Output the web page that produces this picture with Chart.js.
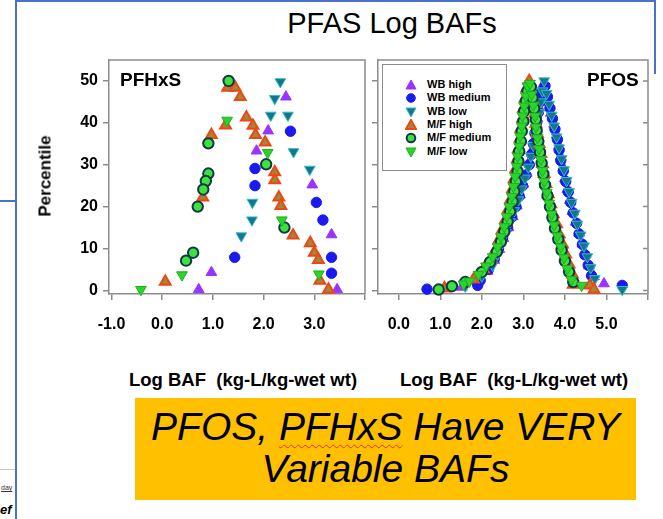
<!DOCTYPE html>
<html><head><meta charset="utf-8">
<script src="https://cdn.jsdelivr.net/npm/chart.js@4"></script>
<style>
html,body{margin:0;padding:0;}
body{width:663px;height:519px;position:relative;overflow:hidden;background:#fff;font-family:"Liberation Sans",Arial,sans-serif;}
.abs{position:absolute;}
canvas{position:absolute;}
.lbl{position:absolute;font-weight:bold;color:#000;white-space:nowrap;}
</style></head><body>

<!-- slide frame fragments -->
<div class="abs" style="left:15px;top:0;width:2px;height:519px;background:#4a72c8"></div>
<div class="abs" style="left:15px;top:0;width:641px;height:2px;background:#4a72c8"></div>
<div class="abs" style="left:654px;top:0;width:2px;height:74px;background:#4a72c8"></div>
<div class="abs" style="left:0;top:200px;width:15px;height:2px;background:#4a72c8"></div>
<div class="abs" style="left:0;top:469px;width:15px;height:1px;background:#c8c8c8"></div>
<div class="abs" style="left:1px;top:484px;font-size:7px;color:#333;text-decoration:underline">day</div>
<div class="abs" style="left:0;top:502px;font-size:13px;font-weight:bold;font-style:italic;color:#000">ef</div>

<div class="abs" style="left:392px;top:9px;transform:translateX(-50%);white-space:nowrap;font-size:29px;line-height:29px;color:#000">PFAS Log BAFs</div>

<canvas id="cL" width="380" height="340" style="left:0;top:0"></canvas>
<canvas id="cR" width="323" height="340" style="left:340px;top:0"></canvas>

<div class="lbl" style="left:120px;top:70px;font-size:19px;line-height:19px">PFHxS</div>
<div class="lbl" style="left:587px;top:70px;font-size:19px;line-height:19px">PFOS</div>
<div class="lbl" style="left:45px;top:176px;font-size:17px;line-height:17px;transform:translate(-50%,-50%) rotate(-90deg)">Percentile</div>
<div class="lbl" style="left:243px;top:370px;font-size:18.5px;line-height:19px;transform:translateX(-50%)">Log BAF&nbsp; (kg-L/kg-wet wt)</div>
<div class="lbl" style="left:514px;top:370px;font-size:18.5px;line-height:19px;transform:translateX(-50%)">Log BAF&nbsp; (kg-L/kg-wet wt)</div>

<div id="legend" class="abs" style="left:382px;top:64px;width:123px;height:105px;border:1.5px solid #8c8c8c;background:#fff"></div>

<div class="abs" style="left:135px;top:398px;width:501px;height:102px;background:#FFC000;text-align:center;font-style:italic;font-size:39px;line-height:42px;color:#000;padding-top:8px;box-sizing:border-box;white-space:nowrap">PFOS, <span style="text-decoration:underline wavy #e03030;text-decoration-thickness:1px;text-underline-offset:4px">PFHxS</span> Have VERY<br>Variable BAFs</div>

<script>
// ---------------- DATA ----------------
const seriesNames = ['WB high', 'WB medium', 'WB low', 'M/F high', 'M/F medium', 'M/F low'];

// PFHxS panel: [log BAF, percentile]
const pfhxsWbHigh = [[2.44,46.2],[2.09,38.1],[1.86,33.3],[2.96,25.2],[3.34,13.3],[0.97,4.3],[0.72,0.2],[3.45,0.2]];
const pfhxsWbMed  = [[2.53,38.0],[1.83,29.1],[1.83,25.0],[3.04,21.0],[3.17,16.8],[1.43,7.9],[3.34,7.9],[3.34,4.1]];
const pfhxsWbLow  = [[2.33,49.8],[2.22,45.8],[2.14,41.8],[2.48,41.8],[2.59,33.1],[2.91,28.9],[1.78,21.0],[1.77,16.8],[1.56,13.0]];
const pfhxsMfHigh = [[1.29,48.4],[1.44,48.4],[1.54,46.2],[1.66,41.3],[1.25,39.4],[0.97,37.1],[1.79,39.3],[1.84,37.1],[2.03,35.3],[2.22,28.2],[2.22,26.3],[2.30,22.2],[2.34,20.2],[0.80,22.2],[2.58,13.1],[2.92,11.3],[3.00,9.0],[3.08,7.3],[3.11,2.3],[3.28,0.2],[0.06,2.1]];
const pfhxsMfMed  = [[1.31,50.0],[0.91,35.1],[0.91,27.9],[0.86,26.1],[0.81,24.1],[0.70,20.0],[0.61,9.0],[0.47,7.1],[2.05,30.1],[2.41,15.0]];
const pfhxsMfLow  = [[1.28,40.6],[2.08,32.9],[2.36,16.8],[3.09,3.9],[0.39,3.7],[-0.42,0.2]];

// PFOS panel
const pfosWbHigh = [[1.52,0.8],[1.88,2.2],[2.14,4.6],[2.30,7.2],[2.42,9.8],[2.52,12.4],[2.64,15.0],[2.74,17.6],[2.84,20.2],[2.92,22.8],[3.00,25.4],[3.08,28.0],[3.14,30.6],[3.20,33.2],[3.26,35.8],[3.30,38.4],[3.34,41.0],[3.38,43.6],[3.42,46.2],[3.46,48.8],
  [3.54,47.5],[3.60,44.9],[3.66,42.3],[3.74,39.7],[3.80,37.1],[3.86,34.5],[3.90,31.9],[3.96,29.3],[4.00,26.7],[4.06,24.1],[4.12,21.5],[4.18,18.9],[4.26,16.3],[4.34,13.7],[4.42,11.1],[4.50,8.5],[4.58,5.9],[4.70,3.3],[4.94,1.6]];
const pfosWbMed = [[0.68,0.3],[1.90,1.2],[1.96,2.4],[2.16,5.0],[2.30,7.5],[2.40,10.0],[2.50,12.5],[2.62,15.0],[2.72,17.5],[2.82,20.0],[2.90,22.5],[2.98,25.0],[3.06,27.5],[3.14,30.0],[3.20,32.5],[3.24,35.0],[3.28,37.5],[3.32,40.0],[3.36,42.5],[3.40,45.0],[3.44,47.5],
  [3.52,48.8],[3.58,46.2],[3.64,43.5],[3.70,41.0],[3.76,38.5],[3.82,36.0],[3.86,33.5],[3.90,31.0],[3.96,28.5],[4.02,26.0],[4.08,23.5],[4.14,21.0],[4.20,18.5],[4.28,16.0],[4.34,13.5],[4.42,11.0],[4.48,8.5],[4.56,6.0],[4.64,3.5],[5.38,1.2]];
const pfosWbLow = [[1.60,1.0],[2.00,3.4],[2.26,6.0],[2.38,8.6],[2.48,11.2],[2.58,13.8],[2.68,16.4],[2.78,19.0],[2.88,21.6],[2.96,24.2],[3.04,26.8],[3.12,29.4],[3.18,32.0],[3.24,34.6],[3.28,37.2],[3.32,39.8],[3.38,42.4],[3.42,45.0],[3.46,47.6],[3.50,50.0],
  [3.56,47.0],[3.62,44.4],[3.68,41.8],[3.74,39.2],[3.80,36.6],[3.86,34.0],[3.92,31.4],[3.98,28.8],[4.04,26.2],[4.10,23.6],[4.16,21.0],[4.24,18.4],[4.30,15.8],[4.38,13.2],[4.46,10.6],[4.54,8.0],[4.62,5.4],[4.72,2.8],[5.38,0.2]];
const pfosMfHigh = [[1.10,0.5],[1.80,2.6],[2.04,5.0],[2.22,7.4],[2.34,9.8],[2.42,12.2],[2.50,14.6],[2.58,17.0],[2.64,19.4],[2.70,21.8],[2.74,24.2],[2.78,26.6],[2.82,29.0],[2.86,31.4],[2.88,33.8],[2.92,36.2],[2.94,38.6],[2.98,41.0],[3.00,43.4],[3.04,45.8],[3.08,48.2],[3.14,50.0],
  [3.20,47.0],[3.24,44.6],[3.28,42.2],[3.30,39.8],[3.34,37.4],[3.38,35.0],[3.42,32.6],[3.46,30.2],[3.50,27.8],[3.54,25.4],[3.60,23.0],[3.66,20.6],[3.72,18.2],[3.80,15.8],[3.86,13.4],[3.94,11.0],[4.02,8.6],[4.10,6.2],[4.18,3.8],[4.20,1.4],[4.60,1.2],[4.70,0.2]];
const pfosMfMed = [[0.96,0.2],[1.28,1.0],[1.60,2.0],[2.00,4.4],[2.20,6.8],[2.36,9.2],[2.46,11.6],[2.54,14.0],[2.62,16.4],[2.68,18.8],[2.74,21.2],[2.78,23.6],[2.82,26.0],[2.86,28.4],[2.88,30.8],[2.90,33.2],[2.94,35.6],[2.96,38.0],[3.00,40.4],[3.02,42.8],[3.06,45.2],[3.10,47.6],
  [3.18,48.6],[3.22,46.0],[3.26,43.4],[3.30,40.8],[3.32,38.2],[3.36,35.6],[3.40,33.0],[3.44,30.4],[3.48,27.8],[3.52,25.2],[3.58,22.6],[3.64,20.0],[3.70,17.4],[3.76,14.8],[3.84,12.2],[3.92,9.6],[4.00,7.0],[4.10,4.4],[4.20,2.0]];
const pfosMfLow = [[1.56,1.5],[1.70,2.2],[1.92,3.8],[2.10,5.8],[2.26,8.0],[2.38,10.4],[2.46,12.8],[2.54,15.2],[2.60,17.6],[2.66,20.0],[2.72,22.4],[2.76,24.8],[2.80,27.2],[2.84,29.6],[2.86,32.0],[2.90,34.4],[2.92,36.8],[2.96,39.2],[2.98,41.6],[3.02,44.0],[3.06,46.4],[3.10,48.8],
  [3.16,49.4],[3.20,46.8],[3.24,44.2],[3.28,41.6],[3.30,39.0],[3.34,36.4],[3.38,33.8],[3.42,31.2],[3.46,28.6],[3.50,26.0],[3.56,23.4],[3.62,20.8],[3.68,18.2],[3.74,15.6],[3.82,13.0],[3.90,10.4],[3.98,7.8],[4.06,5.2],[4.16,2.6],[4.40,1.2]];

// ---------------- STYLES ----------------
const markerStyles = [
  {pointStyle:'triangle', rotation:0,   fill:'#9933ff', edge:'#9933ff', r:6.2, bw:1},
  {pointStyle:'circle',   rotation:0,   fill:'#1a1af0', edge:'#1a1af0', r:5.2, bw:1},
  {pointStyle:'triangle', rotation:180, fill:'#15758e', edge:'#2fc0c0', r:6.2, bw:1},
  {pointStyle:'triangle', rotation:0,   fill:'#9c8a36', edge:'#ef4616', r:6.2, bw:2},
  {pointStyle:'circle',   rotation:0,   fill:'#3de23d', edge:'#10384a', r:5.2, bw:2},
  {pointStyle:'triangle', rotation:180, fill:'#2ad42a', edge:'#1fb01f', r:6.2, bw:1}
];
const drawOrder = [5,4,3,2,1,0];

function makeDatasets(seriesList){
  return seriesList.map((pts, i) => {
    const s = markerStyles[i];
    return {
      label: seriesNames[i],
      data: pts.map(p => ({x:p[0], y:p[1]})),
      pointStyle: s.pointStyle, rotation: s.rotation,
      backgroundColor: s.fill, borderColor: s.edge, borderWidth: s.bw,
      pointRadius: s.r, showLine:false, clip:false, order: drawOrder[i]
    };
  });
}

const AX = '#8c8c8c';
const tickFont = {family:'"Liberation Sans", Arial, sans-serif', size:16, weight:'bold'};

const framePlugin = {
  id:'frame',
  beforeDatasetsDraw(chart, args, opts){
    const {ctx, chartArea:a, scales} = chart;
    ctx.save();
    ctx.strokeStyle = AX; ctx.lineWidth = 1.5;
    ctx.beginPath();
    ctx.moveTo(a.left, a.top); ctx.lineTo(a.right, a.top); ctx.lineTo(a.right, a.bottom);
    if (opts.rightTicks) {
      scales.y.ticks.forEach(t => {
        const y = scales.y.getPixelForValue(t.value);
        ctx.moveTo(a.right - 5, y); ctx.lineTo(a.right, y);
      });
    }
    ctx.stroke();
    ctx.restore();
  }
};

function makeChart(id, seriesList, xMin, xMax, hiddenX, yWidth, showYLabels, padRight, rightTicks){
  new Chart(document.getElementById(id), {
    type:'scatter',
    data:{datasets: makeDatasets(seriesList)},
    plugins:[framePlugin],
    options:{
      responsive:false, maintainAspectRatio:false, animation:false, events:[],
      layout:{padding:{top:60, right:padRight, left:0, bottom:0}},
      plugins:{legend:{display:false}, tooltip:{enabled:false}, frame:{rightTicks}},
      scales:{
        x:{type:'linear', min:xMin, max:xMax,
           afterFit(s){ s.height = 46; },
           border:{color:AX, width:1.5},
           grid:{drawOnChartArea:false, tickLength:6, color:AX, lineWidth:1.5},
           ticks:{stepSize:1, includeBounds:false, padding:15, color:'#000', font:tickFont, maxRotation:0,
                  callback:(v)=> hiddenX.includes(v) ? '' : v.toFixed(1)}},
        y:{type:'linear', min:-0.86, max:55,
           afterFit(s){ s.width = yWidth; },
           border:{color:AX, width:1.5},
           grid:{drawOnChartArea:false, tickLength:6, color:AX, lineWidth:1.5},
           ticks:{stepSize:10, includeBounds:false, padding:5, color:'#000', font:tickFont,
                  callback:(v)=> showYLabels ? String(v) : ''}}
      }
    }
  });
}

makeChart('cL', [pfhxsWbHigh, pfhxsWbMed, pfhxsWbLow, pfhxsMfHigh, pfhxsMfMed, pfhxsMfLow], -1.05, 4.0, [4], 109, true, 2, false);
makeChart('cR', [pfosWbHigh, pfosWbMed, pfosWbLow, pfosMfHigh, pfosMfMed, pfosMfLow], -0.5, 6.0, [6], 38, false, 14, true);

// ---------------- LEGEND ----------------
(function(){
  const box = document.getElementById('legend');
  seriesNames.forEach((name, i) => {
    const s = markerStyles[i];
    const row = document.createElement('div');
    row.style.cssText = 'position:absolute;left:0;top:' + (13 + i*13.3) + 'px;height:13px;width:120px;';
    let shape;
    if (s.pointStyle === 'circle') {
      shape = '<circle cx="6" cy="6" r="4.3" fill="' + s.fill + '" stroke="' + s.edge + '" stroke-width="' + s.bw + '"/>';
    } else if (s.rotation === 0) {
      shape = '<polygon points="6,1 11,10 1,10" fill="' + s.fill + '" stroke="' + s.edge + '" stroke-width="' + s.bw + '"/>';
    } else {
      shape = '<polygon points="1,2 11,2 6,11" fill="' + s.fill + '" stroke="' + s.edge + '" stroke-width="' + s.bw + '"/>';
    }
    row.innerHTML = '<svg width="12" height="12" style="position:absolute;left:22px;top:1px">' + shape + '</svg>' +
      '<span style="position:absolute;left:44px;top:0;font-weight:bold;font-size:11px;line-height:13px">' + name + '</span>';
    box.appendChild(row);
  });
})();
</script>
</body></html>
